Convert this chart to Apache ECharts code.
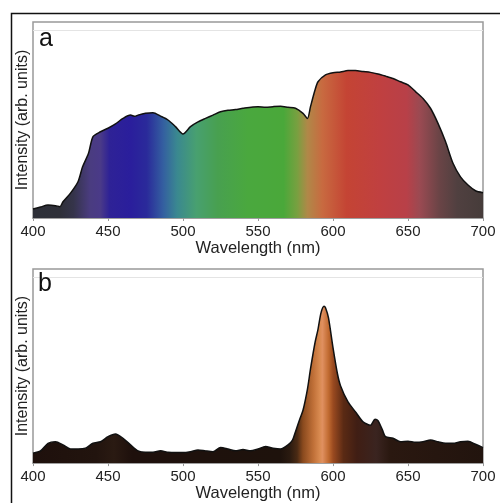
<!DOCTYPE html>
<html>
<head>
<meta charset="utf-8">
<script src="https://cdn.jsdelivr.net/npm/echarts@6/dist/echarts.min.js"></script>
<style>html,body{margin:0;padding:0;background:#fff;}#c{width:500px;height:503px;}</style>
</head>
<body>
<div id="c"></div>
<script>
// Panel a: transmission/reflection spectrum
var wavelengthsA = [400,405,410,415,418,420,425,430,433,437,440,445,450,455,460,465,468,470,475,480,485,490,495,500,505,510,515,520,525,530,535,540,550,555,560,565,570,575,580,583,585,588,590,595,600,605,610,615,620,625,630,635,640,645,650,655,660,665,670,675,680,685,690,695,700];
var intensityA = [4.6,5.6,6.6,6.3,5.8,8.3,12.7,18.5,26,33,41.5,44,45.8,48,50.8,52.5,51.9,52.5,53.4,53.7,52,50,46.6,42.9,46.6,49,50.8,52.5,54.2,55,55.3,56,56.8,56.5,56.8,57,56.5,56,53.4,50.8,56.8,65.3,69.5,73,74.1,74.5,75.2,75.2,74.7,74.3,73.5,72.4,71.2,69.5,67.9,64.5,61,56,48.3,39,27.9,21,16.8,13.9,12.9];

// Panel b: emission spectrum
var wavelengthsB = [400,405,410,415,420,425,430,435,440,445,450,455,460,465,470,475,480,485,490,495,500,505,510,515,520,525,530,535,540,545,550,555,560,565,570,573,575,578,580,583,585,588,590,592,594,595,597,600,603,605,610,615,620,625,628,630,633,635,640,645,650,655,660,665,670,675,680,685,690,695,700];
var intensityB = [5.1,6.3,10.2,11,9.4,7.3,7.3,7.7,10.2,11,13.6,15,12.8,9.4,6.3,5.6,5.6,6.3,5.6,5.4,5.4,5.9,6.8,6.3,5.9,8,7.3,6.3,7,6.3,7.3,8.5,7.7,7.3,9.4,11.9,16.2,23,27.2,38.3,48.5,62,68.9,77.4,80.8,80,74.8,59.5,45.9,39.9,31.5,26.4,21.3,19.5,22.6,21.9,17,13.6,12.8,11,11.3,10.7,11,11.9,11,10.2,10.2,11,11.3,9.7,8];

var xTicks = [400,450,500,550,600,650,700];
var panelLabels = ['a','b'];

function pairs(xs, ys){ return xs.map(function(x,i){ return [x, ys[i]]; }); }

var gradA = new echarts.graphic.LinearGradient(0,0,1,0,[
  {offset:0.00,color:'#2e3038'},{offset:0.06,color:'#2f3039'},
  {offset:0.09,color:'#35344a'},{offset:0.127,color:'#4a3c80'},
  {offset:0.15,color:'#4a3a88'},{offset:0.17,color:'#2e2296'},
  {offset:0.217,color:'#2a1e9c'},{offset:0.253,color:'#2a2a9a'},
  {offset:0.29,color:'#3460a0'},{offset:0.32,color:'#3a8890'},
  {offset:0.363,color:'#48a070'},{offset:0.41,color:'#48a050'},
  {offset:0.477,color:'#4aa83e'},{offset:0.557,color:'#4aa83a'},
  {offset:0.587,color:'#78a040'},{offset:0.61,color:'#b08848'},
  {offset:0.643,color:'#c86a40'},{offset:0.697,color:'#c44434'},
  {offset:0.77,color:'#c04040'},{offset:0.83,color:'#b84048'},
  {offset:0.86,color:'#9a4a52'},{offset:0.903,color:'#6a4446'},
  {offset:0.943,color:'#504040'},{offset:1.0,color:'#463c3a'}
]);
var gradB = new echarts.graphic.LinearGradient(0,0,1,0,[
  {offset:0.00,color:'#1e100c'},{offset:0.14,color:'#22140e'},
  {offset:0.18,color:'#2a1a12'},{offset:0.22,color:'#1e100c'},
  {offset:0.55,color:'#1e120c'},{offset:0.57,color:'#2a1a10'},
  {offset:0.587,color:'#4a2a14'},{offset:0.6,color:'#8a4a1e'},
  {offset:0.623,color:'#c07038'},{offset:0.637,color:'#d88a50'},
  {offset:0.643,color:'#e09060'},{offset:0.657,color:'#c06a30'},
  {offset:0.667,color:'#9a4a20'},{offset:0.69,color:'#5a2a14'},
  {offset:0.72,color:'#401e14'},{offset:0.763,color:'#3a2420'},
  {offset:0.793,color:'#2a1810'},{offset:1.0,color:'#22140e'}
]);

var FONT = 'Liberation Sans';
function xAxisCfg(idx){
  return {
    gridIndex: idx, type:'value', min:400, max:700, interval:50,
    name:'Wavelength (nm)', nameLocation:'middle', nameGap:21,
    nameTextStyle:{fontFamily:FONT, fontSize:16.5, color:'#222'},
    axisLine:{show:true, lineStyle:{color:'#999', width:1.5}},
    axisTick:{show:true, length:3, lineStyle:{color:'#999'}},
    axisLabel:{fontFamily:FONT, fontSize:15, color:'#222', margin:6,
      formatter:function(v){ return xTicks.indexOf(v)>=0 ? String(v) : ''; }},
    splitLine:{show:false}
  };
}
function yAxisCfg(idx){
  return {
    gridIndex: idx, type:'value', min:0, max:100,
    name:'Intensity (arb. units)', nameLocation:'middle', nameGap:2,
    nameTextStyle:{fontFamily:FONT, fontSize:16, color:'#222'},
    axisLine:{show:false}, axisTick:{show:false}, axisLabel:{show:false},
    splitLine:{show:false}
  };
}
function seriesCfg(idx, data, grad){
  return {
    type:'line', xAxisIndex:idx, yAxisIndex:idx, data:data,
    showSymbol:false, smooth:0.25,
    lineStyle:{color:'#111', width:1.5},
    areaStyle:{color:grad, opacity:1},
    markLine:{silent:true, symbol:'none', label:{show:false},
      lineStyle:{color:'#e4e4e4', type:'solid', width:1},
      data:[{yAxis:96}]},
    z:2
  };
}

var chart = echarts.init(document.getElementById('c'), null, {renderer:'canvas'});
chart.setOption({
  backgroundColor:'#fff',
  animation:false,
  grid:[
    {left:33, top:22, width:450, height:196, show:true, borderColor:'#999', borderWidth:1.5, backgroundColor:'transparent'},
    {left:33, top:269, width:450, height:196, show:true, borderColor:'#999', borderWidth:1.5, backgroundColor:'transparent'}
  ],
  xAxis:[xAxisCfg(0), xAxisCfg(1)],
  yAxis:[yAxisCfg(0), yAxisCfg(1)],
  series:[seriesCfg(0, pairs(wavelengthsA,intensityA), gradA), seriesCfg(1, pairs(wavelengthsB,intensityB), gradB)],
  graphic:[
    {type:'rect', left:9, top:11, shape:{width:530, height:530}, style:{fill:null, stroke:'#111', lineWidth:1.5}, z:0},
    {type:'text', left:39, top:27, style:{text:panelLabels[0], font:'25px "Liberation Sans"', fill:'#111'}, z:10},
    {type:'text', left:38, top:272, style:{text:panelLabels[1], font:'25px "Liberation Sans"', fill:'#111'}, z:10}
  ]
});
</script>
</body>
</html>
